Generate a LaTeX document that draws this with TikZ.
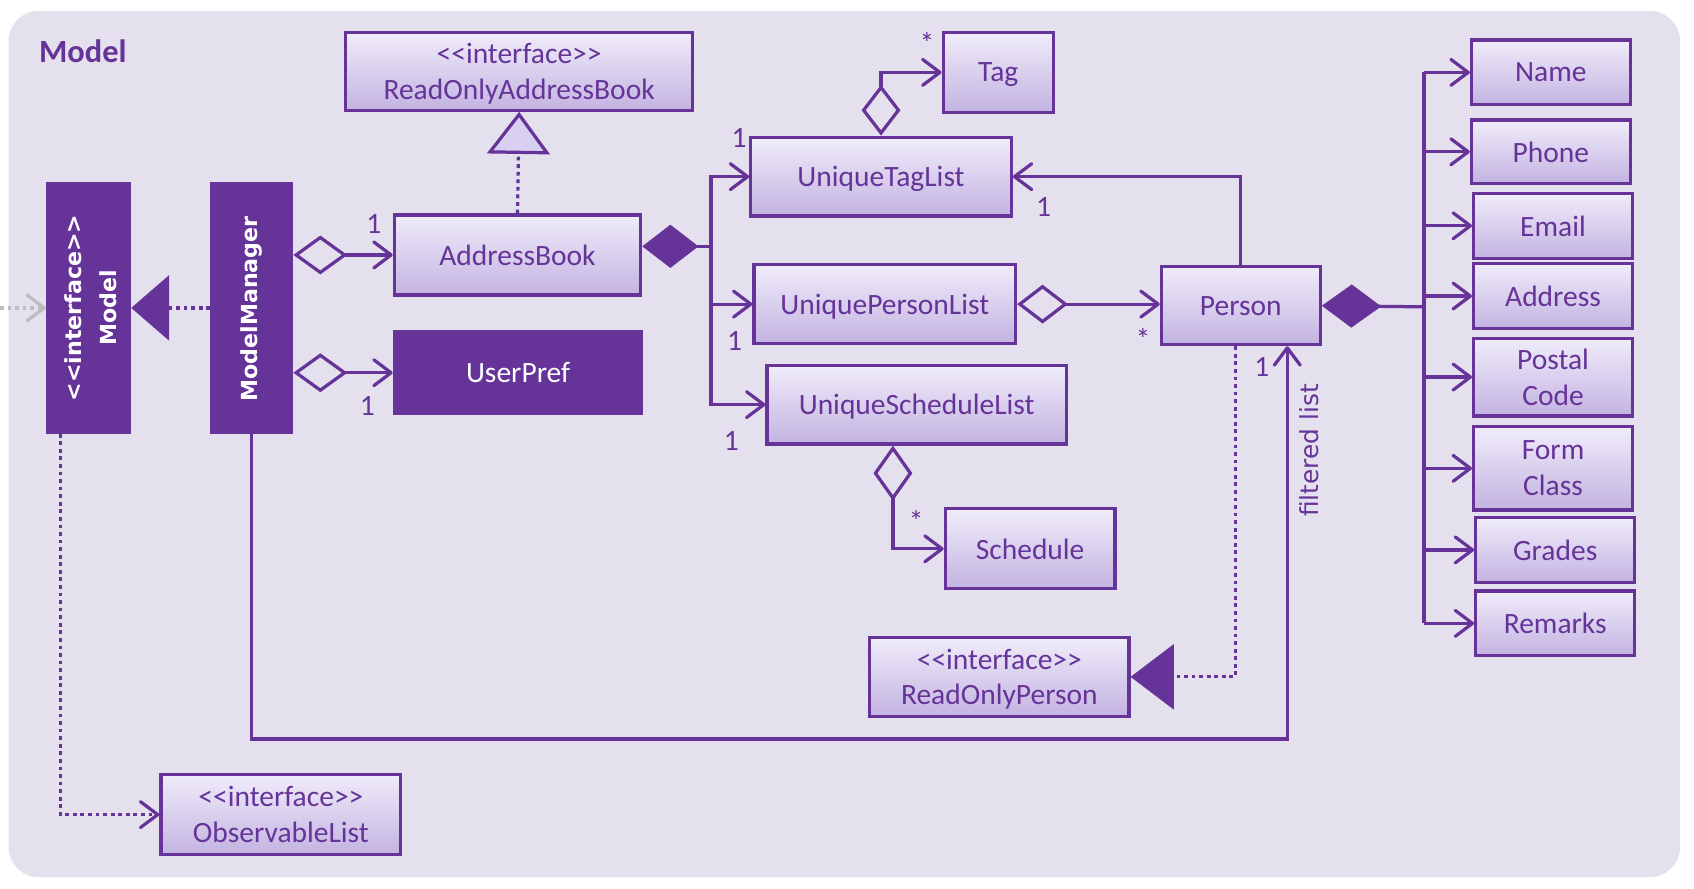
\documentclass[tikz,border=0pt]{standalone}
\usepackage{fontspec}
\setmainfont{Carlito}
\newfontfamily\djv{DejaVu Sans}
\usetikzlibrary{arrows.meta}
\definecolor{purp}{HTML}{663399}
\definecolor{bgc}{HTML}{E5E0EE}
\definecolor{boxtop}{HTML}{F0ECFA}
\definecolor{boxbot}{HTML}{C3B3E1}
\definecolor{boxmid}{HTML}{D9CFF0}
\definecolor{greyarr}{HTML}{BDBDBD}
\newcommand\bxf{\fontsize{27.3}{33}\selectfont}
\newcommand\stl{<\kern0pt<}
\newcommand\str{>\kern0pt>}
\begin{document}
\begin{tikzpicture}[x=1pt,y=-1pt,
  >={Straight Barb[length=16pt,width=24pt,round]},
  cls/.style={draw=purp, line width=3pt, top color=boxtop, bottom color=boxbot, text=purp, font=\bxf, inner sep=0pt, align=center, text depth=0pt},
  darkbox/.style={draw=purp, line width=3pt, fill=purp, text=white, font=\bxf, inner sep=0pt, align=center, text depth=0pt},
  conn/.style={draw=purp, line width=3pt},
  dotline/.style={dash pattern=on 3.5pt off 3.5pt},
  mult/.style={text=purp, font=\bxf, inner sep=0pt},
  odia/.style={{Diamond[open,length=50pt,width=36pt]}->},
]
\useasboundingbox (0,0) rectangle (1568,822);
\fill[white] (0,0) rectangle (1568,822);
\fill[bgc, rounded corners=28pt] (8,10) rectangle (1555,812);
\node[font=\fontsize{30}{36}\selectfont\bfseries, text=purp, anchor=west, inner sep=0pt] (title) at (36,47) {Model};

% class boxes
\node[cls, minimum width=321pt, minimum height=72pt] (roab) at (480.5,66) {\stl interface\str\\ReadOnlyAddressBook};
\node[darkbox, minimum width=76pt, minimum height=230pt] (model) at (82,285) {};
\node[darkbox, minimum width=74pt, minimum height=230pt] (mm) at (233,285) {};
\node[rotate=90, text=white, font=\djv\bfseries\fontsize{20.5}{32}\selectfont, align=center] (modeltxt) at (84,285) {\stl interface\str\\Model};
\node[rotate=90, text=white, font=\djv\bfseries\fontsize{20.5}{25}\selectfont] (mmtxt) at (233,286) {ModelManager};
\node[cls, minimum width=228pt, minimum height=74pt] (ab) at (479,236) {AddressBook};
\node[darkbox, minimum width=229pt, minimum height=76pt] (up) at (479.5,345) {UserPref};
\node[cls, minimum width=102pt, minimum height=74pt] (tag) at (924,67) {Tag};
\node[cls, minimum width=241pt, minimum height=73pt] (utl) at (815.5,163.5) {UniqueTagList};
\node[cls, minimum width=242pt, minimum height=73pt] (upl) at (819,281.5) {UniquePersonList};
\node[cls, minimum width=277pt, minimum height=73pt] (usl) at (848.5,374.5) {UniqueScheduleList};
\node[cls, minimum width=157pt, minimum height=74pt] (sch) at (953.5,508) {Schedule};
\node[cls, minimum width=147pt, minimum height=72pt] (person) at (1148.5,283) {Person};
\node[cls, minimum width=240pt, minimum height=73pt] (rop) at (925,626.5) {\stl interface\str\\ReadOnlyPerson};
\node[cls, minimum width=222pt, minimum height=74pt] (obs) at (260,754) {\stl interface\str\\ObservableList};

\node[cls, minimum width=147pt, minimum height=60pt] (name) at (1435.5,67) {Name};
\node[cls, minimum width=147pt, minimum height=59pt] (phone) at (1435.5,140.5) {Phone};
\node[cls, minimum width=147pt, minimum height=60pt] (email) at (1437.5,209) {Email};
\node[cls, minimum width=147pt, minimum height=60pt] (address) at (1437.5,274) {Address};
\node[cls, minimum width=147pt, minimum height=72pt] (postal) at (1437.5,349) {Postal\\Code};
\node[cls, minimum width=147pt, minimum height=77pt] (form) at (1437.5,433.5) {Form\\Class};
\node[cls, minimum width=147pt, minimum height=60pt] (grades) at (1439.5,509) {Grades};
\node[cls, minimum width=147pt, minimum height=60pt] (remarks) at (1439.5,577) {Remarks};

% external gray arrow
\coordinate (ext) at (0,285);
\draw[draw=greyarr, line width=3pt, dotline, ->] (ext) -- (model.west);

% realizations
\draw[conn, dotline, -{Triangle[length=35pt,width=60pt]}] (mm.west) -- (model.east);
\draw[conn, dotline, -{Triangle[length=39pt,width=58pt,fill=boxmid]}] (ab.north) -- (roab.south);

% ModelManager aggregations
\draw[conn, odia] (mm.east |- ab.west) -- (ab.west);
\draw[conn, odia] (mm.east |- up.west) -- (up.west);

% AddressBook composition
\coordinate (abbus) at (658,228);
\draw[conn, {Diamond[length=52pt,width=40pt]}-] ([yshift=8pt]ab.east) -- (abbus);
\draw[conn, ->] (abbus) -- (abbus |- utl.west) -- (utl.west);
\draw[conn, ->] (abbus) -- (abbus |- upl.west) -- (upl.west);
\draw[conn, ->] (abbus) -- (abbus |- usl.west) -- (usl.west);

% UniqueTagList -> Tag
\draw[conn, {Diamond[open,length=47pt,width=36pt]}->] (utl.north) -- (utl.north |- tag.west) -- (tag.west);
% Person -> UniqueTagList
\draw[conn, ->] (person.north) -- (person.north |- utl.east) -- (utl.east);
% UniquePersonList -> Person
\draw[conn, {Diamond[open,length=47pt,width=36pt]}->] (upl.east) -- (upl.east -| person.west);
% UniqueScheduleList -> Schedule
\coordinate (uslb) at ([xshift=-22pt]usl.south);
\draw[conn, {Diamond[open,length=51pt,width=36pt]}->] (uslb) -- (uslb |- sch.west) -- (sch.west);
% Person -> ReadOnlyPerson
\coordinate (pdot) at ([xshift=-5pt]person.south);
\draw[conn, dotline, -{Triangle[length=40pt,width=60pt]}] (pdot) -- (pdot |- rop.east) -- (rop.east);
% ModelManager -> Person (filtered list)
\coordinate (pfl) at ([xshift=43pt]person.south);
\coordinate (flc) at (1191,684);
\draw[conn, ->] (mm.south) -- (mm.south |- flc) -- (pfl |- flc) -- (pfl);
% Model -> ObservableList
\coordinate (mdl) at ([xshift=-26pt]model.south);
\draw[conn, dotline, ->] (mdl) -- (mdl |- obs.west) -- (obs.west);

% Person composition to attributes
\coordinate (atb) at (1318,284);
\draw[conn, {Diamond[length=55pt,width=40pt]}-] (person.east) -- (atb);
\draw[conn] (atb |- name.west) -- (atb |- remarks.west);
\foreach \a in {name,phone,email,address,postal,form,grades,remarks}
  \draw[conn, ->] (atb |- \a.west) -- (\a.west);

% multiplicities
\node[mult] (m1) at (346,207) {1};
\node[mult] (m2) at (340,376) {1};
\node[mult] (m3) at (684,128) {1};
\node[mult] (m4) at (680,316) {1};
\node[mult] (m5) at (677,408) {1};
\node[mult] (m6) at (858,40) {*};
\node[mult] (m7) at (966,192) {1};
\node[mult] (m8) at (1058,314) {*};
\node[mult] (m9) at (848,482) {*};
\node[mult] (m10) at (1168,340) {1};
\node[rotate=90, text=purp, font=\djv\fontsize{23}{27}\selectfont, inner sep=0pt] (fltxt) at (1212,417) {filtered list};
\end{tikzpicture}
\end{document}
